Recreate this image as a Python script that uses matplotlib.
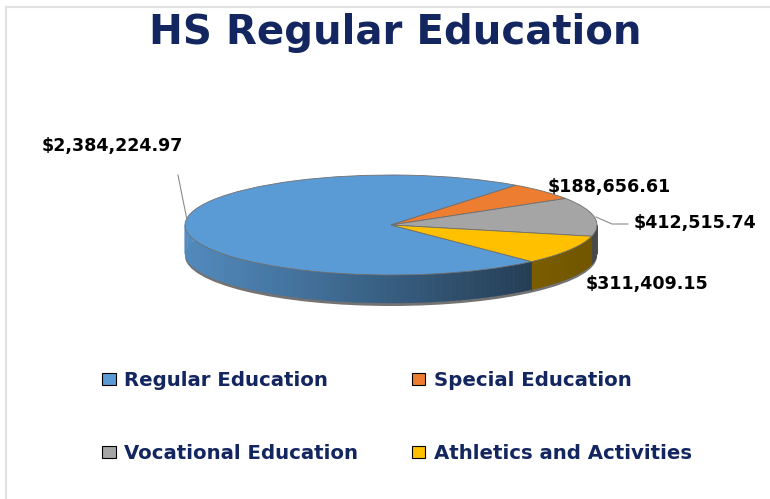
import numpy as np
import matplotlib
matplotlib.use("Agg")
import matplotlib.pyplot as plt
from matplotlib.collections import PolyCollection
from matplotlib.patches import Ellipse, Rectangle
from matplotlib.lines import Line2D

# data
categories = ["Regular Education", "Special Education",
              "Vocational Education", "Athletics and Activities"]
values = [2384224.97, 188656.61, 412515.74, 311409.15]
value_labels = ["$2,384,224.97", "$188,656.61", "$412,515.74", "$311,409.15"]
colors = ["#5b9bd5", "#ed7d31", "#a5a5a5", "#ffc000"]

navy = "#13265f"
W, H = 770, 499

fig = plt.figure(figsize=(W / 100, H / 100), dpi=100)
ax = fig.add_axes([0, 0, 1, 1])

# pixel geometry of the flattened pie
cx, cy, rx, ry = 391, 225, 206, 50
depth = 0.56

wedges, _ = ax.pie(values, colors=colors, startangle=-47, counterclock=False,
                   radius=1, wedgeprops=dict(edgecolor="#6f6f6f", linewidth=0.6))
for w in wedges:
    w.set_zorder(5)

ax.set_aspect("auto")
ax.set_xlim(-cx / rx, (W - cx) / rx)
ax.set_ylim((cy - H) / ry, cy / ry)
ax.axis("off")

# side wall, built from the wedge angles
polys, fcs = [], []
for w, c in zip(wedges, colors):
    t1, t2 = sorted((w.theta1, w.theta2))
    angs = np.radians(np.linspace(t1, t2, 200))
    base = np.array(matplotlib.colors.to_rgb(c))
    for a0, a1 in zip(angs[:-1], angs[1:]):
        if np.sin(a0) > 0 and np.sin(a1) > 0:
            continue
        x0, x1 = np.cos(a0), np.cos(a1)
        y0, y1 = np.sin(a0), np.sin(a1)
        polys.append([(x0, y0), (x1, y1), (x1, y1 - depth), (x0, y0 - depth)])
        xm = (x0 + x1) / 2
        if c == colors[0]:
            f = 0.9 - 0.52 * (xm + 1) / 1.75
        else:
            f = 0.5 - 0.06 * (xm - 0.6) / 0.4
        fcs.append(np.clip(base * f, 0, 1))
wall = PolyCollection(polys, facecolors=fcs, edgecolors=fcs, linewidths=0.3, zorder=3)
ax.add_collection(wall)
# dividing line on the wall between regular and athletics
edge_a = np.radians(-47)
ax.plot([np.cos(edge_a)] * 2, [np.sin(edge_a), np.sin(edge_a) - depth],
        color="#3a3a3a", lw=0.6, zorder=4)
# soft shadow under the pie
ax.add_patch(Ellipse((0, -depth - 0.06), 2.0, 2.0, color="black", alpha=0.55, zorder=2, lw=0))

# value labels
def px(x, y):
    return x / W, 1 - y / H

lab_kw = dict(fontsize=12.6, fontweight="bold", color="black", family="DejaVu Sans", va="center")
fig.text(*px(42, 146), value_labels[0], ha="left", **lab_kw)
fig.text(*px(548, 187), value_labels[1], ha="left", **lab_kw)
fig.text(*px(634, 223), value_labels[2], ha="left", **lab_kw)
fig.text(*px(586, 284), value_labels[3], ha="left", **lab_kw)

fig.add_artist(Line2D([178 / W, 187 / W], [1 - 175 / H, 1 - 220 / H], color="#8c8c8c", lw=0.8))
fig.add_artist(Line2D([596 / W, 612 / W, 628 / W], [1 - 217 / H, 1 - 224 / H, 1 - 224 / H],
                      color="#8c8c8c", lw=0.8))

# title
fig.text(*px(395, 33), "HS Regular Education", ha="center", va="center",
         fontsize=29, fontweight="bold", color=navy, family="DejaVu Sans")

# legend (row order: Regular, Special / Vocational, Athletics)
order = [0, 2, 1, 3]
handles = [Rectangle((0, 0), 1, 1, facecolor=colors[i], edgecolor="black", lw=0.8) for i in order]
leg = fig.legend(handles, [categories[i] for i in order], ncol=2, loc="upper left",
                 bbox_to_anchor=(84 / W, 1 - 353 / H), frameon=False,
                 handlelength=0.7, handleheight=0.55, handletextpad=0.45,
                 labelspacing=2.75, columnspacing=2.7,
                 prop=dict(size=14.2, weight="bold", family="DejaVu Sans"))
for t in leg.get_texts():
    t.set_color(navy)

# thin frame lines on top/left
fig.add_artist(Line2D([6.5 / W, 1], [1 - 6.5 / H] * 2, color="#e2e2e2", lw=1.5))
fig.add_artist(Line2D([6.5 / W] * 2, [0, 1 - 6.5 / H], color="#e2e2e2", lw=1.5))

fig.savefig("out.png", dpi=100)
